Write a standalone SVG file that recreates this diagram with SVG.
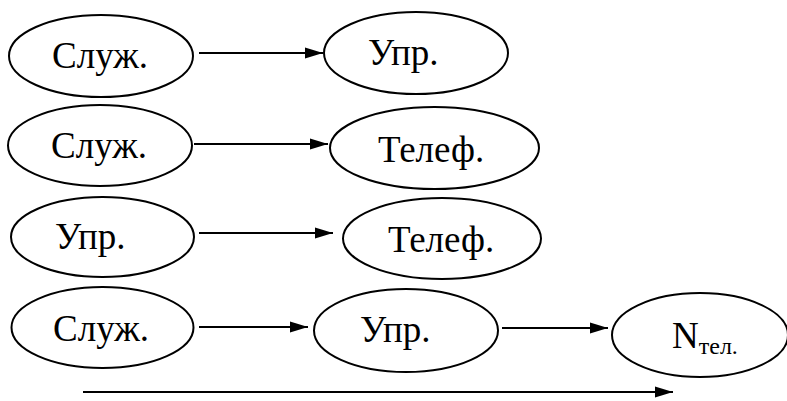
<svg xmlns="http://www.w3.org/2000/svg" width="787" height="401" viewBox="0 0 787 401">
  <style>
    .node ellipse { fill: #ffffff; stroke: #000000; stroke-width: 2; }
    .node text { font-family: 'Liberation Serif', 'Times New Roman', 'DejaVu Serif', serif; font-size: 37px; fill: #000000; }
    .node text .sub { font-size: 24px; }
    #connectors line { stroke: #000000; stroke-width: 2; marker-end: url(#arrow); }
  </style>
  <defs>
    <marker id="arrow" markerUnits="userSpaceOnUse" markerWidth="18" markerHeight="12" refX="18" refY="6" orient="auto">
      <path d="M0,0.5 L18,6 L0,11.5 z" fill="#000000"/>
    </marker>
  </defs>
  <rect width="787" height="401" fill="#ffffff"/>

  <!-- row 1 -->
  <g id="n1-sluzh" class="node">
    <ellipse cx="101" cy="56" rx="92" ry="41"/>
    <text x="52" y="68">Служ.</text>
  </g>
  <g id="n1-upr" class="node">
    <ellipse cx="416" cy="53" rx="92" ry="41"/>
    <text x="368" y="65">Упр.</text>
  </g>

  <!-- row 2 -->
  <g id="n2-sluzh" class="node">
    <ellipse cx="100" cy="145.5" rx="92" ry="40.5"/>
    <text x="51" y="158">Служ.</text>
  </g>
  <g id="n2-telef" class="node">
    <ellipse cx="434.5" cy="148" rx="104.5" ry="41"/>
    <text x="378" y="162">Телеф.</text>
  </g>

  <!-- row 3 -->
  <g id="n3-upr" class="node">
    <ellipse cx="102.5" cy="237" rx="91.5" ry="40"/>
    <text x="55" y="249">Упр.</text>
  </g>
  <g id="n3-telef" class="node">
    <ellipse cx="442" cy="238.5" rx="99" ry="40.5"/>
    <text x="388" y="252">Телеф.</text>
  </g>

  <!-- row 4 -->
  <g id="n4-sluzh" class="node">
    <ellipse cx="102.5" cy="327.5" rx="91" ry="40.5"/>
    <text x="53" y="341">Служ.</text>
  </g>
  <g id="n4-upr" class="node">
    <ellipse cx="406" cy="330.5" rx="92" ry="41.5"/>
    <text x="360" y="342">Упр.</text>
  </g>
  <g id="n4-ntel" class="node">
    <ellipse cx="700" cy="335" rx="88" ry="42"/>
    <text x="672" y="348">N<tspan class="sub" dy="6">тел.</tspan></text>
  </g>

  <g id="connectors">
    <line x1="199" y1="53" x2="323" y2="53"/>
    <line x1="194" y1="144" x2="328" y2="144"/>
    <line x1="199" y1="233" x2="333" y2="233"/>
    <line x1="199" y1="327" x2="308" y2="327"/>
    <line x1="502" y1="328" x2="608" y2="328"/>
    <line x1="83" y1="392" x2="673" y2="392"/>
  </g>
</svg>
